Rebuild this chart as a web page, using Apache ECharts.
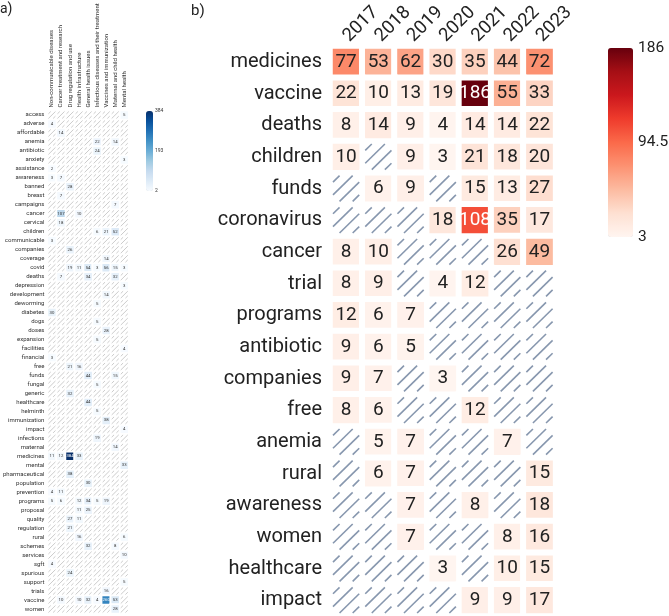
<!DOCTYPE html>
<html><head><meta charset="utf-8">
<script src="https://cdn.jsdelivr.net/npm/echarts@6/dist/echarts.min.js"></script>
<style>html,body{margin:0;padding:0;background:#fff}#c{width:669px;height:616px}</style>
</head><body><div id="c"></div><script>
const topicsA = ['Non-communicable diseases','Cancer treatment and research','Drug regulation and use','Health infrastructure','General health issues','Infectious diseases and their treatment','Vaccines and immunization','Maternal and child health','Mental health'];
const termsA = ['access','adverse','affordable','anemia','antibiotic','anxiety','assistance','awareness','banned','breast','campaigns','cancer','cervical','children','communicable','companies','coverage','covid','deaths','depression','development','deworming','diabetes','dogs','doses','expansion','facilities','financial','free','funds','fungal','generic','healthcare','helminth','immunization','impact','infections','maternal','medicines','mental','pharmaceutical','population','prevention','programs','proposal','quality','regulation','rural','schemes','services','sgft','spurious','support','trials','vaccine','women'];
// [term, topic index, count]
const countsA = [
 ['access',8,5],['adverse',0,4],['affordable',1,14],['anemia',5,22],['anemia',7,14],['antibiotic',5,24],
 ['anxiety',8,3],['assistance',0,2],['awareness',0,3],['awareness',1,7],['banned',2,28],['breast',1,7],
 ['campaigns',7,7],['cancer',1,107],['cancer',3,10],['cervical',1,18],['children',5,6],['children',6,21],['children',7,52],
 ['communicable',0,3],['companies',2,26],['coverage',6,14],
 ['covid',2,19],['covid',3,11],['covid',4,54],['covid',5,3],['covid',6,56],['covid',7,15],['covid',8,3],
 ['deaths',1,7],['deaths',4,34],['deaths',7,32],['depression',8,3],['development',6,14],['deworming',5,5],
 ['diabetes',0,30],['dogs',5,5],['doses',6,28],['expansion',5,5],['facilities',8,4],['financial',0,3],
 ['free',2,21],['free',3,16],['funds',4,44],['funds',7,15],['fungal',5,5],['generic',2,32],['healthcare',4,44],
 ['helminth',5,5],['immunization',6,38],['impact',8,4],['infections',5,19],['maternal',7,14],
 ['medicines',0,11],['medicines',1,12],['medicines',2,384],['medicines',3,33],['mental',8,33],
 ['pharmaceutical',2,38],['population',4,30],['prevention',0,4],['prevention',1,11],
 ['programs',0,5],['programs',1,6],['programs',3,12],['programs',4,34],['programs',5,5],['programs',6,19],
 ['proposal',3,11],['proposal',4,25],['quality',2,27],['quality',3,11],['regulation',2,21],
 ['rural',3,16],['rural',8,6],['schemes',4,32],['schemes',7,8],['services',8,10],['sgft',0,4],
 ['spurious',2,24],['support',8,5],['trials',6,16],
 ['vaccine',1,10],['vaccine',3,10],['vaccine',4,32],['vaccine',5,4],['vaccine',6,260],['vaccine',7,53],
 ['women',7,28]
];
const yearsB = ['2017','2018','2019','2020','2021','2022','2023'];
const termsB = ['medicines','vaccine','deaths','children','funds','coronavirus','cancer','trial','programs','antibiotic','companies','free','anemia','rural','awareness','women','healthcare','impact'];
// one row per term, one value per year; null = no data (hatched)
const countsB = [
 [77,53,62,30,35,44,72],
 [22,10,13,19,186,55,33],
 [8,14,9,4,14,14,22],
 [10,null,9,3,21,18,20],
 [null,6,9,null,15,13,27],
 [null,null,null,18,108,35,17],
 [8,10,null,null,null,26,49],
 [8,9,null,4,12,null,null],
 [12,6,7,null,null,null,null],
 [9,6,5,null,null,null,null],
 [9,7,null,3,null,null,null],
 [8,6,null,null,12,null,null],
 [null,5,7,null,null,7,null],
 [null,6,7,null,null,null,15],
 [null,null,7,null,8,null,18],
 [null,null,7,null,null,8,16],
 [null,null,null,3,null,10,15],
 [null,null,null,null,9,9,17]
];
const colorbarA = [2,193,384];
const colorbarB = [3,94.5,186];

const blues = ['#f7fbff','#deebf7','#c6dbef','#9ecae1','#6baed6','#4292c6','#2171b5','#08519c','#08306b'];
const reds = ['#fff5f0','#fee0d2','#fcbba1','#fc9272','#fb6a4a','#ef3b2c','#cb181d','#a50f15','#67000d'];

const heatA = [], hatchA = [];
const seen = {};
countsA.forEach(([t,c,v]) => {
  const r = termsA.indexOf(t); seen[c+'_'+r] = 1;
  heatA.push({value:[c,r,v], label:{color: v > 150 ? '#fff' : '#333'}});
});
for (let r=0;r<termsA.length;r++) for (let c=0;c<topicsA.length;c++) if(!seen[c+'_'+r]) hatchA.push([c,r]);
const heatB = [], hatchB = [];
countsB.forEach((row,r) => row.forEach((v,c) => {
  if (v == null) hatchB.push([c,r]);
  else heatB.push({value:[c,r,v], label:{color: v > 100 ? '#fff' : '#222'}});
}));

function hatch(inset, color, lw, n) {
  return function(params, api) {
    const p = api.coord([api.value(0), api.value(1)]);
    const sz = api.size([1,1]);
    const w = sz[0]-inset, h = sz[1]-inset;
    const x0 = p[0]-w/2, y0 = p[1]-h/2;
    const ch = [];
    for (let k=0;k<n;k++){
      const c = (k+0.5)/n*2;
      let a, b;
      if (c <= 1) { a=[x0, y0+c*h]; b=[x0+c*w, y0]; }
      else { a=[x0+(c-1)*w, y0+h]; b=[x0+w, y0+(c-1)*h]; }
      ch.push({type:'line', shape:{x1:a[0],y1:a[1],x2:b[0],y2:b[1]}, style:{stroke:color,lineWidth:lw}});
    }
    return {type:'group', children:ch};
  };
}

// rotated column labels placed at each column via the x axis scale
function colLabel(texts, angle, gap, font, color) {
  return function(params, api) {
    const p = api.coord([api.value(0), 0]);
    const h = api.size([1,1])[1];
    return {type:'text', x:p[0], y:p[1]-h/2-gap, rotation:angle,
      style:{text:texts[params.dataIndex], font:font, fill:color, align:'left', verticalAlign:'middle'}};
  };
}

const F = 'Roboto';
const chart = echarts.init(document.getElementById('c'));
const hideAx = {axisLine:{show:false}, axisTick:{show:false}, splitLine:{show:false}};
chart.setOption({
  animation:false,
  textStyle:{fontFamily:F},
  grid:[
    {left:45.5, top:110.5, width:83.3, height:503},
    {left:330, top:46, width:225.6, height:571}
  ],
  xAxis:[
    Object.assign({type:'category', gridIndex:0, data:topicsA, position:'top', axisLabel:{show:false}}, hideAx),
    Object.assign({type:'category', gridIndex:1, data:yearsB, position:'top', axisLabel:{show:false}}, hideAx)
  ],
  yAxis:[
    Object.assign({type:'category', gridIndex:0, data:termsA, inverse:true,
      axisLabel:{fontSize:6, color:'#333', margin:3, interval:0, fontFamily:F}}, hideAx),
    Object.assign({type:'category', gridIndex:1, data:termsB, inverse:true,
      axisLabel:{fontSize:20, color:'#222', margin:8, interval:0, fontFamily:F}}, hideAx)
  ],
  visualMap:[
    {type:'continuous', seriesIndex:0, min:2, max:384, inRange:{color:blues}, calculable:false,
     text:null, showLabel:false, left:146, top:111, itemWidth:7, itemHeight:80, padding:0},
    {type:'continuous', seriesIndex:2, min:3, max:186, inRange:{color:reds}, calculable:false,
     text:null, showLabel:false, left:608, top:48, itemWidth:25, itemHeight:189, padding:0}
  ],
  graphic:[
    {type:'text', left:0, top:2, style:{text:'a)', font:'14px Roboto', fill:'#222'}},
    {type:'text', left:191, top:4, style:{text:'b)', font:'15px Roboto', fill:'#222'}},
    {type:'text', x:155, y:111, style:{text:String(colorbarA[2]), font:'5px Roboto', fill:'#333', verticalAlign:'middle'}},
    {type:'text', x:155, y:151, style:{text:String(colorbarA[1]), font:'5px Roboto', fill:'#333', verticalAlign:'middle'}},
    {type:'text', x:155, y:191, style:{text:String(colorbarA[0]), font:'5px Roboto', fill:'#333', verticalAlign:'middle'}},
    {type:'text', x:638, y:48, style:{text:String(colorbarB[2]), font:'15.5px Roboto', fill:'#222', verticalAlign:'middle'}},
    {type:'text', x:638, y:142.5, style:{text:String(colorbarB[1]), font:'15.5px Roboto', fill:'#222', verticalAlign:'middle'}},
    {type:'text', x:638, y:237, style:{text:String(colorbarB[0]), font:'15.5px Roboto', fill:'#222', verticalAlign:'middle'}}
  ],
  series:[
    {type:'heatmap', xAxisIndex:0, yAxisIndex:0, data:heatA,
     itemStyle:{borderColor:'#fff', borderWidth:2},
     label:{show:true, fontSize:4.3, fontFamily:F, formatter:p=>p.value[2]}},
    {type:'custom', xAxisIndex:0, yAxisIndex:0, data:hatchA, renderItem:hatch(2,'#a9a9a9',0.6,3), silent:true},
    {type:'heatmap', xAxisIndex:1, yAxisIndex:1, data:heatB,
     itemStyle:{borderColor:'#fff', borderWidth:6},
     label:{show:true, fontSize:19, fontFamily:F, formatter:p=>p.value[2]}},
    {type:'custom', xAxisIndex:1, yAxisIndex:1, data:hatchB, renderItem:hatch(6,'#8797ae',1.6,4), silent:true},
    {type:'custom', xAxisIndex:0, yAxisIndex:0, data:topicsA.map((t,i)=>[i,0]), silent:true, clip:false,
     renderItem:colLabel(topicsA, Math.PI/2, 3, '6px Roboto', '#333')},
    {type:'custom', xAxisIndex:1, yAxisIndex:1, data:yearsB.map((y,i)=>[i,0]), silent:true, clip:false,
     renderItem:colLabel(yearsB, Math.PI/4, 7, '18.5px Roboto', '#222')}
  ]
});
</script></body></html>
